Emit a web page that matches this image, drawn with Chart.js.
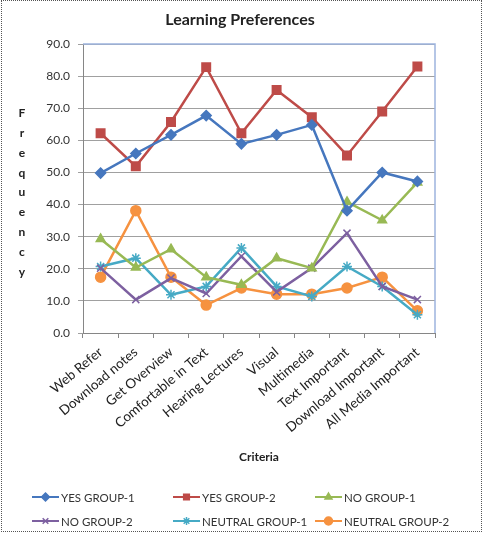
<!DOCTYPE html>
<html>
<head>
<meta charset="utf-8">
<title>Learning Preferences</title>
<script src="https://cdn.jsdelivr.net/npm/chart.js@4.4.1/dist/chart.umd.min.js"></script>
<style>
  html, body { margin: 0; padding: 0; background: #fff; }
  #wrap { position: relative; width: 485px; height: 534px; }
  #wrap::after {
    content: "";
    position: absolute;
    left: 1px; top: 0;
    width: 479px; height: 530px;
    border: 1px dotted #555;
    pointer-events: none;
  }
  canvas { display: block; }
</style>
</head>
<body>
<div id="wrap"><canvas id="chart" width="485" height="534"></canvas></div>
<script>
"use strict";

const categories = [
  "Web Refer", "Download notes", "Get Overview", "Comfortable in Text",
  "Hearing Lectures", "Visual", "Multimedia", "Text Important",
  "Download Important", "All Media Important"
];

const yesGroup1 = [49.8, 55.9, 61.7, 67.7, 58.9, 61.7, 64.8, 38.1, 50.0, 47.2];
const yesGroup2 = [62.2, 51.9, 65.7, 82.8, 62.2, 75.7, 67.2, 55.3, 69.0, 83.0];
const noGroup1 = [29.3, 20.4, 26.1, 17.4, 15.0, 23.3, 20.2, 40.8, 35.1, 46.9];
const noGroup2 = [20.2, 10.4, 17.1, 12.3, 23.9, 12.8, 20.2, 31.1, 14.5, 10.4];
const neutralGroup1 = [20.7, 23.3, 11.9, 14.5, 26.5, 14.5, 11.4, 20.7, 14.5, 5.7];
const neutralGroup2 = [17.4, 38.1, 17.4, 8.7, 14.0, 12.1, 12.1, 14.0, 17.4, 6.9];

const yTicks = [0, 10, 20, 30, 40, 50, 60, 70, 80, 90];

const FONT = "Lato, 'Open Sans', sans-serif";

function series(label, data, color, pointStyle, radius) {
  return {
    label,
    data,
    borderColor: color,
    backgroundColor: color,
    pointBackgroundColor: color,
    pointBorderColor: color,
    pointStyle,
    pointRadius: radius,
    pointBorderWidth: 1.5,
    borderWidth: 2.5,
    tension: 0
  };
}

const datasets = [
  series("YES GROUP-1", yesGroup1, "#4677BE", "rectRot", 5),
  series("YES GROUP-2", yesGroup2, "#BE4B48", "rect", 6),
  series("NO GROUP-1", noGroup1, "#98B954", "triangle", 5),
  series("NO GROUP-2", noGroup2, "#7D60A0", "crossRot", 5),
  series("NEUTRAL GROUP-1", neutralGroup1, "#46AAC5", "star", 5),
  series("NEUTRAL GROUP-2", neutralGroup2, "#F69240", "circle", 5)
];

// title, stacked axis label, plot frame and the 3-column legend
const decorations = {
  id: "decorations",
  afterDraw(chart) {
    const ctx = chart.ctx;
    const area = chart.chartArea;

    ctx.save();

    ctx.strokeStyle = "#9DB4DE";
    ctx.lineWidth = 1.5;
    ctx.beginPath();
    ctx.moveTo(area.left, area.top);
    ctx.lineTo(area.right, area.top);
    ctx.lineTo(area.right, area.bottom);
    ctx.stroke();

    ctx.fillStyle = "#222";
    ctx.textAlign = "center";
    ctx.textBaseline = "middle";
    ctx.font = "bold 16px " + FONT;
    ctx.fillText("Learning Preferences", 240, 20);

    ctx.font = "bold 12px " + FONT;
    "Frequency".split("").forEach((letter, i) => {
      ctx.fillText(letter, 22, 113 + i * 19.9);
    });

    const cols = [32, 173, 315];
    const rows = [497, 521];
    ctx.font = "11.5px " + FONT;
    ctx.textAlign = "left";

    chart.data.datasets.forEach((ds, i) => {
      const x = cols[i % 3];
      const y = rows[Math.floor(i / 3)];

      ctx.strokeStyle = ds.borderColor;
      ctx.lineWidth = 2;
      ctx.beginPath();
      ctx.moveTo(x, y);
      ctx.lineTo(x + 27, y);
      ctx.stroke();

      ctx.fillStyle = ds.borderColor;
      ctx.lineWidth = 1.5;
      if (Chart.helpers && Chart.helpers.drawPoint) {
        Chart.helpers.drawPoint(ctx, {
          pointStyle: ds.pointStyle,
          radius: 4,
          rotation: 0,
          borderWidth: 1.5
        }, x + 13.5, y);
      }

      ctx.fillStyle = "#333";
      ctx.fillText(ds.label, x + 29, y + 1);
    });

    ctx.restore();
  }
};

new Chart(document.getElementById("chart"), {
  type: "line",
  data: {
    labels: categories,
    datasets
  },
  options: {
    responsive: false,
    animation: false,
    layout: {
      padding: { top: 44, right: 50, bottom: 66, left: 0 }
    },
    plugins: {
      legend: { display: false },
      title: { display: false },
      tooltip: { enabled: false }
    },
    scales: {
      x: {
        type: "category",
        offset: true,
        grid: {
          display: true,
          drawOnChartArea: false,
          drawTicks: true,
          tickLength: 5,
          offset: true,
          color: "#868686"
        },
        border: { color: "#868686", width: 1 },
        ticks: {
          autoSkip: false,
          minRotation: 40,
          maxRotation: 40,
          padding: 6,
          color: "#222",
          font: { family: FONT, size: 13.5 }
        },
        title: {
          display: true,
          text: "Criteria",
          color: "#222",
          font: { family: FONT, size: 12, weight: "bold" },
          padding: { top: 4, bottom: 4 }
        },
        afterFit(scale) {
          scale.height = 135;
        }
      },
      y: {
        min: 0,
        max: 90,
        afterBuildTicks(scale) {
          scale.ticks = yTicks.map((value) => ({ value }));
        },
        grid: {
          color: "#A0A0A0",
          lineWidth: 1,
          tickLength: 5
        },
        border: { color: "#868686", width: 1 },
        ticks: {
          padding: 8,
          color: "#333",
          font: { family: FONT, size: 12 },
          callback: (value) => Number(value).toFixed(1)
        },
        afterFit(scale) {
          scale.width = 83;
        }
      }
    }
  },
  plugins: [decorations]
});
</script>
</body>
</html>
